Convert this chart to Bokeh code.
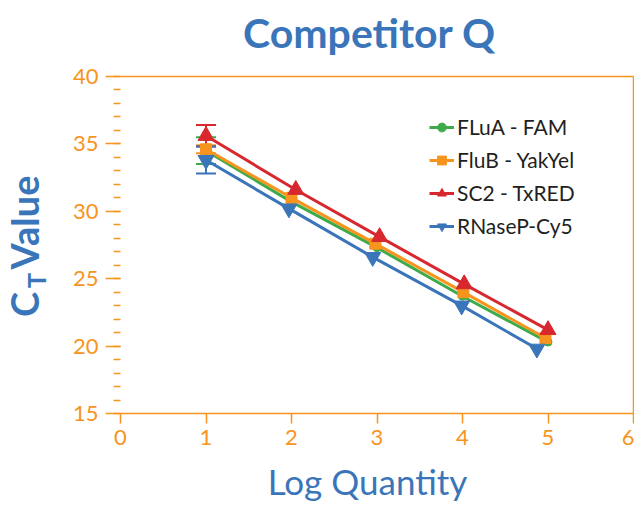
import math
from bokeh.plotting import figure
from bokeh.layouts import row, column
from bokeh.models import (ColumnDataSource, Whisker, TeeHead, Legend, LegendItem,
                          LinearAxis, SingleIntervalTicker, FixedTicker, Label, Range1d)
from bokeh.embed import file_html
from bokeh.resources import INLINE

# ---- data ----
series_names = ["FLuA - FAM", "FluB - YakYel", "SC2 - TxRED", "RNaseP-Cy5"]
flua_x = [1, 2, 3, 4, 5]
flua_y = [34.5, 30.7, 27.3, 23.7, 20.3]
flua_err = [1.0, 0, 0, 0, 0]
flub_x = [1, 2, 2.98, 4.01, 4.97]
flub_y = [34.6, 31.0, 27.6, 24.0, 20.6]
flub_err = [0.3, 0, 0, 0, 0]
sc2_x = [1, 2.05, 3.03, 4.02, 5.0]
sc2_y = [35.6, 31.6, 28.1, 24.6, 21.2]
sc2_err = [0.8, 0, 0, 0, 0]
rnp_x = [1, 1.97, 2.95, 3.99, 4.87]
rnp_y = [33.8, 30.2, 26.6, 23.0, 19.8]
rnp_err = [1.0, 0, 0, 0, 0]
x_ticks = [0, 1, 2, 3, 4, 5, 6]

ORANGE_AX = "#F7941D"
BLUE_T = "#3B75B9"
colors = ["#3FAA4A", "#F7941D", "#D7282F", "#3B75B9"]
markers = ["circle", "square", "triangle", "inverted_triangle"]
msizes = [8, 11, 16, 16]
FONT = "Lato"

LAB_W = 60
TITLE_H = 60
XLAB_H = 48
TOP, FH, BOT = 76, 337, 44
ROW_H = TOP - TITLE_H + FH + BOT
TW = 626
ROW_Y0 = TITLE_H
XLAB_Y0 = TITLE_H + ROW_H


def blank(w, h):
    f = figure(frame_width=w, frame_height=h, output_backend="svg", toolbar_location=None,
               x_axis_location=None, y_axis_location=None, title=None,
               x_range=Range1d(0, w), y_range=Range1d(h, 0),
               min_border=0, min_border_left=0, min_border_right=0, min_border_top=0, min_border_bottom=0)
    f.grid.visible = False
    f.outline_line_color = None
    f.background_fill_color = "white"
    f.border_fill_color = "white"
    return f


p = figure(frame_width=513, frame_height=FH, output_backend="svg", toolbar_location=None,
           title=None, x_range=Range1d(0, 6), y_range=Range1d(15, 40),
           min_border_left=120 - LAB_W, min_border_right=1, min_border_top=TOP - TITLE_H,
           min_border_bottom=BOT)

p.grid.visible = False
p.outline_line_color = None
p.background_fill_color = "white"
p.border_fill_color = "white"

# x axis
xa = p.xaxis[0]
xa.ticker = FixedTicker(ticks=x_ticks)
xa.axis_line_color = ORANGE_AX
xa.axis_line_width = 1.5
xa.major_tick_line_color = ORANGE_AX
xa.major_tick_line_width = 1.5
xa.major_tick_out = 10
xa.major_tick_in = 0
xa.minor_tick_line_color = None
xa.major_label_text_color = ORANGE_AX
xa.major_label_text_font = FONT
xa.major_label_text_font_size = "22px"
xa.major_label_standoff = 6

# y axis
ya = p.yaxis[0]
ya.ticker = SingleIntervalTicker(interval=5, num_minor_ticks=5)
ya.axis_line_color = None
ya.major_tick_line_color = ORANGE_AX
ya.major_tick_line_width = 1.5
ya.major_tick_out = 15
ya.major_tick_in = 0
ya.minor_tick_line_color = ORANGE_AX
ya.minor_tick_line_width = 1.5
ya.minor_tick_out = 7
ya.minor_tick_in = 0
ya.major_label_text_color = ORANGE_AX
ya.major_label_text_font = FONT
ya.major_label_text_font_size = "22px"
ya.major_label_standoff = 7

# frame lines top & right
for loc in ["above", "right"]:
    ax = LinearAxis(ticker=FixedTicker(ticks=[]), axis_line_color=ORANGE_AX, axis_line_width=1.5,
                    major_tick_line_color=None, minor_tick_line_color=None,
                    major_label_text_font_size="0px", major_label_standoff=0)
    p.add_layout(ax, loc)

xs = [flua_x, flub_x, sc2_x, rnp_x]
ys = [flua_y, flub_y, sc2_y, rnp_y]
errs = [flua_err, flub_err, sc2_err, rnp_err]
items = []
for i in range(4):
    src = ColumnDataSource(dict(x=xs[i], y=ys[i]))
    l = p.line("x", "y", source=src, line_color=colors[i], line_width=3)
    ex = [x for x, e in zip(xs[i], errs[i]) if e > 0]
    ey = [y for y, e in zip(ys[i], errs[i]) if e > 0]
    ee = [e for e in errs[i] if e > 0]
    wsrc = ColumnDataSource(dict(x=ex, lo=[a - b for a, b in zip(ey, ee)], hi=[a + b for a, b in zip(ey, ee)]))
    w = Whisker(source=wsrc, base="x", lower="lo", upper="hi", line_color=colors[i], line_width=2,
                upper_head=TeeHead(size=20, line_color=colors[i], line_width=2),
                lower_head=TeeHead(size=20, line_color=colors[i], line_width=2))
    p.add_layout(w)
    s = p.scatter("x", "y", source=src, marker=markers[i], size=msizes[i],
                  fill_color=colors[i], line_color=colors[i])
    items.append(LegendItem(label=series_names[i], renderers=[l, s]))

leg = Legend(items=items, location=(309, 175), padding=0, margin=0,
             background_fill_alpha=0, border_line_color=None,
             label_text_font=FONT, label_text_font_size="21px", label_text_color="#231F20",
             glyph_width=25, glyph_height=22, label_height=22, spacing=8, label_standoff=3)
p.add_layout(leg, "center")

# title strip
tfig = blank(TW, TITLE_H)
tfig.add_layout(Label(x=369, y=32, text="Competitor Q", text_font=FONT, text_font_size="41px",
                      text_font_style="bold", text_color=BLUE_T,
                      text_align="center", text_baseline="middle"))

# side strip with the y-axis title (subscript T); coordinates relative to the row top
lab = blank(LAB_W, ROW_H)
lab.add_layout(Label(x=23, y=288 - ROW_Y0, text="C", angle=math.pi / 2,
                     text_font=FONT, text_font_size="38px", text_font_style="bold",
                     text_color=BLUE_T, text_baseline="middle", text_align="center"))
lab.add_layout(Label(x=35, y=264 - ROW_Y0, text="T", angle=math.pi / 2,
                     text_font=FONT, text_font_size="25px", text_font_style="bold",
                     text_color=BLUE_T, text_baseline="middle", text_align="center"))
lab.add_layout(Label(x=23, y=206 - ROW_Y0, text="Value", angle=math.pi / 2,
                     text_font=FONT, text_font_size="38px", text_font_style="bold",
                     text_color=BLUE_T, text_baseline="middle", text_align="center"))

# bottom strip with the x-axis title
xfig = blank(TW, XLAB_H)
xfig.add_layout(Label(x=367, y=480 - XLAB_Y0, text="Log Quantity", text_font=FONT, text_font_size="35px",
                      text_color=BLUE_T, text_align="center", text_baseline="middle"))

layout = column(tfig, row(lab, p, spacing=0), xfig, spacing=0)
open("out.html", "w").write(file_html(layout, INLINE))
